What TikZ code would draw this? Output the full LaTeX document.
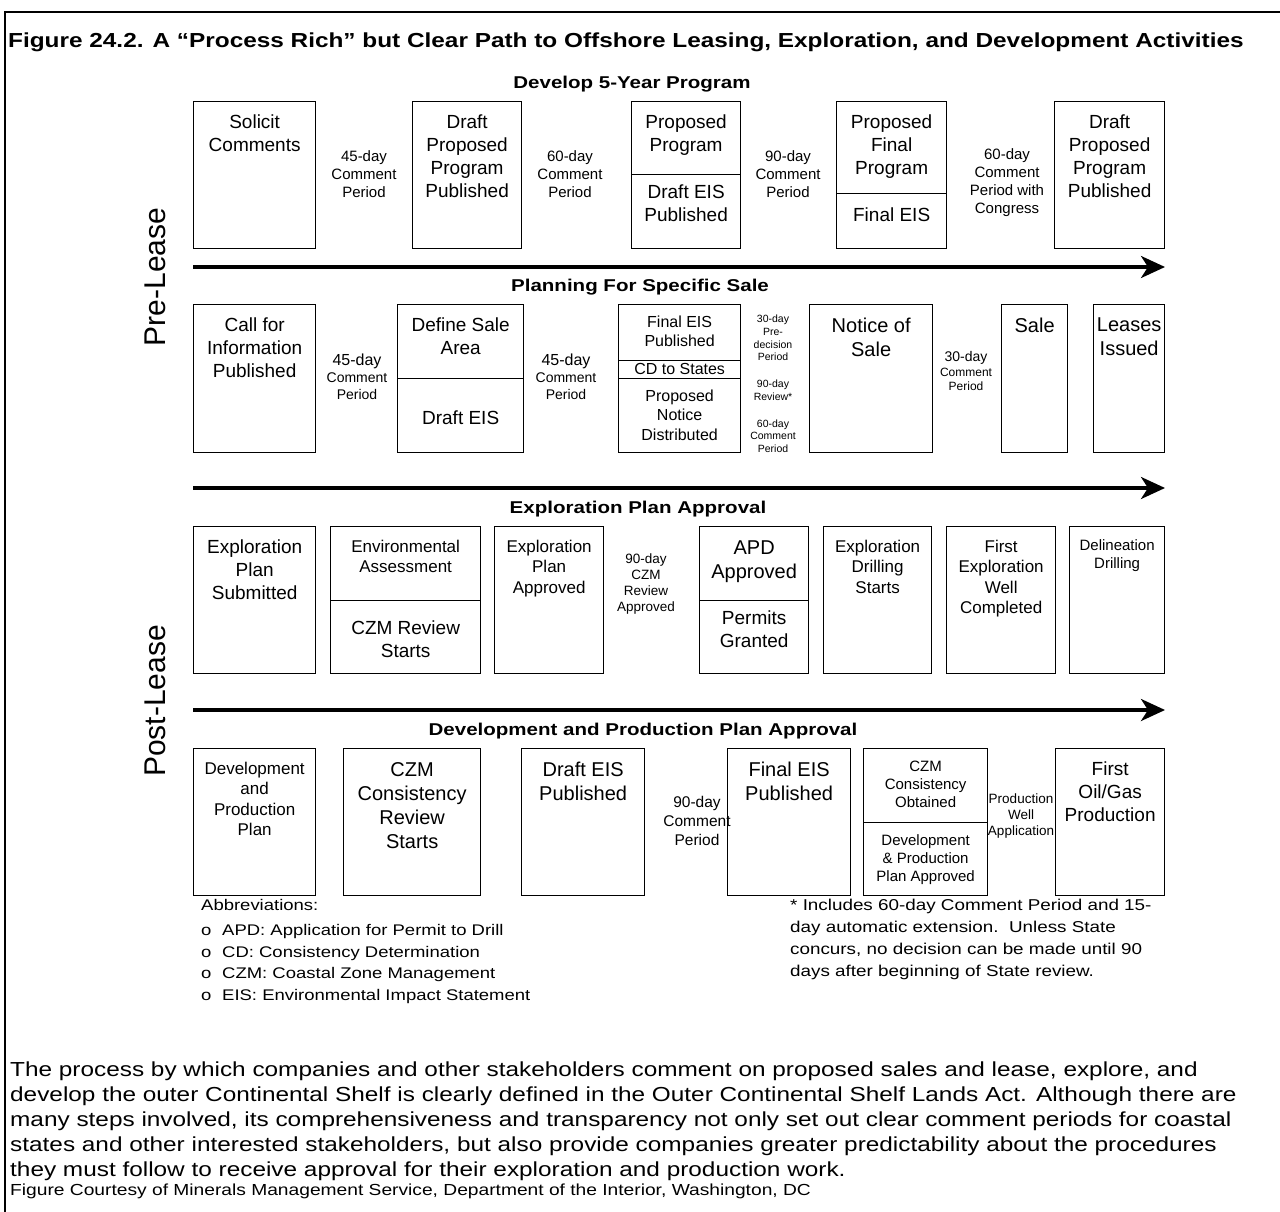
\documentclass[tikz,border=0pt]{standalone}
\usepackage{fontspec}
\setmainfont{Liberation Sans}
\newfontfamily\widesans{Liberation Sans}[FakeStretch=1.2]
\usetikzlibrary{arrows.meta}
\newcommand\fsz[1]{\fontsize{#1}{\dimexpr #1pt*6/5\relax}\selectfont}

\begin{document}
\begin{tikzpicture}[x=1pt,y=-1pt,
  stage/.style={draw,line width=1.3pt,inner sep=0pt,anchor=north west},
  txt/.style={align=center,inner sep=0pt,anchor=north},
  gap/.style={align=center,inner sep=0pt},
  head/.style={font=\widesans\fsz{17.1}\bfseries,inner sep=0pt},
  flow/.style={line width=3.5pt,-{Stealth[length=24pt,width=22pt,inset=7pt]}}]
\useasboundingbox (0,0) rectangle (1280,1212);
\draw[line width=2pt] (5,1212) -- (5,12) -- (1280,12);
\node[font=\widesans\fsz{20.3}\bfseries,anchor=west,inner sep=0pt] (title) at (8,42)
  {Figure 24.2. A “Process Rich” but Clear Path to Offshore Leasing, Exploration, and Development Activities};
\foreach \n/\x/\y/\lbl in {h1/632/84/{Develop 5-Year Program},h2/640/287/{Planning For Specific Sale},
  h3/638/509/{Exploration Plan Approval},h4/643/731/{Development and Production Plan Approval}} {
  \node[head] (\n) at (\x,\y) {\lbl};
}
\foreach \n/\x/\y/\w/\h/\f/\ty/\lbl in {
  sol/193/101/122/147/19/115/{Solicit\\Comments},
  dpp/412/101/109/147/19/115/{Draft\\Proposed\\Program\\Published},
  pp/631/101/109/73/19/115/{Proposed\\Program},
  deis/631/174/109/74/19/185/{Draft EIS\\Published},
  pfp/836/101/110/92/19/115/{Proposed\\Final\\Program},
  feis/836/193/110/55/19/208/{Final EIS},
  dppb/1054/101/110/147/19/115/{Draft\\Proposed\\Program\\Published},
  cfi/193/304/122/148/19/318/{Call for\\Information\\Published},
  dsa/397/304/126/74/19/318/{Define Sale\\Area},
  dseis/397/378/126/74/19/411/{Draft EIS},
  fep/618/304/122/56/16/316/{Final EIS\\Published},
  cds/618/360/122/18/16/363/{CD to States},
  pnd/618/378/122/74/16/390/{Proposed\\Notice\\Distributed},
  nos/809/304/123/148/20/318/{Notice of\\Sale},
  sale/1001/304/66/148/20/318/{Sale},
  li/1093/304/71/148/20/318/{Leases\\Issued},
  eps/193/526/122/147/19/540/{Exploration\\Plan\\Submitted},
  ea/330/526/150/74/17/540/{Environmental\\Assessment},
  czr/330/600/150/73/19/621/{CZM Review\\Starts},
  epa/494/526/109/147/17/540/{Exploration\\Plan\\Approved},
  apd/699/526/109/74/20/541/{APD\\Approved},
  pg/699/600/109/73/19/611/{Permits\\Granted},
  eds/823/526/108/147/17/540/{Exploration\\Drilling\\Starts},
  few/946/526/109/147/17/540/{First\\Exploration\\Well\\Completed},
  dd/1069/526/95/147/15/539/{Delineation\\Drilling},
  dpl/193/748/122/147/17/762/{Development\\and\\Production\\Plan},
  ccr/343/748/137/147/20/762/{CZM\\Consistency\\Review\\Starts},
  dep/521/748/123/147/20/762/{Draft EIS\\Published},
  fip/727/748/123/147/20/762/{Final EIS\\Published},
  cco/863/748/124/74/15/761/{CZM\\Consistency\\Obtained},
  dpa/863/822/124/73/15/834/{Development\\\& Production\\Plan Approved},
  fog/1055/748/109/147/19/762/{First\\Oil/Gas\\Production}} {
  \node[stage,minimum width=\w pt,minimum height=\h pt] (\n) at (\x,\y) {};
  \node[txt,font=\fsz{\f}] (\n-t) at (\n.north |- 0,\ty) {\lbl};
}
\foreach \n/\x/\y/\f/\lbl in {
  g1/364/174/15/{45-day\\Comment\\Period},
  g2/570/174/15/{60-day\\Comment\\Period},
  g3/788/174/15/{90-day\\Comment\\Period},
  g4/1007/183/15/{60-day\\Comment\\Period with\\Congress},
  g5/357/377/14/{\fsz{16}45-day\\Comment\\Period},
  g6/566/377/14/{\fsz{16}45-day\\Comment\\Period},
  g7/773/338/10.5/{30-day\\Pre-\\decision\\Period},
  g8/773/390/10.5/{90-day\\Review*},
  g9/773/436/10.5/{60-day\\Comment\\Period},
  g10/966/371/12/{\fsz{14}30-day\\Comment\\Period},
  g11/646/584/13.5/{90-day\\CZM\\Review\\Approved},
  g12/697/821/15.5/{90-day\\Comment\\Period},
  g13/1021/816/13.5/{Production\\Well\\Application}} {
  \node[gap,font=\fsz{\f}] (\n) at (\x,\y) {\lbl};
}
\foreach \i/\y in {1/267,2/488,3/710} {
  \coordinate (s\i) at (193,\y);
  \coordinate (e\i) at (1165,\y);
  \draw[flow] (s\i) -- (e\i);
}
\node[rotate=90,font=\fsz{30},inner sep=0pt] (pre) at (155,277) {Pre-Lease};
\node[rotate=90,font=\fsz{30},inner sep=0pt] (post) at (155,701) {Post-Lease};
\node[anchor=north west,align=left,inner sep=0pt,font=\widesans\fontsize{15.4}{21.5}\selectfont] (abbr) at (201,899)
  {Abbreviations:\\[4pt]
   \makebox[21pt][l]{o}APD: Application for Permit to Drill\\
   \makebox[21pt][l]{o}CD: Consistency Determination\\
   \makebox[21pt][l]{o}CZM: Coastal Zone Management\\
   \makebox[21pt][l]{o}EIS: Environmental Impact Statement};
\node[anchor=north west,align=left,inner sep=0pt,font=\widesans\fontsize{15.7}{22}\selectfont] (note) at (790,899)
  {* Includes 60-day Comment Period and 15-\\
   day automatic extension.\ \ Unless State\\
   concurs, no decision can be made until 90\\
   days after beginning of State review.};
\node[anchor=north west,align=left,inner sep=0pt,font=\widesans\fontsize{20.3}{25}\selectfont] (para) at (10,1062)
  {The process by which companies and other stakeholders comment on proposed sales and lease, explore, and\\
   develop the outer Continental Shelf is clearly defined in the Outer Continental Shelf Lands Act. Although there are\\
   many steps involved, its comprehensiveness and transparency not only set out clear comment periods for coastal\\
   states and other interested stakeholders, but also provide companies greater predictability about the procedures\\
   they must follow to receive approval for their exploration and production work.};
\node[anchor=north west,inner sep=0pt,font=\widesans\fsz{16}] (src) at (10,1184)
  {Figure Courtesy of Minerals Management Service, Department of the Interior, Washington, DC};
\end{tikzpicture}
\end{document}
